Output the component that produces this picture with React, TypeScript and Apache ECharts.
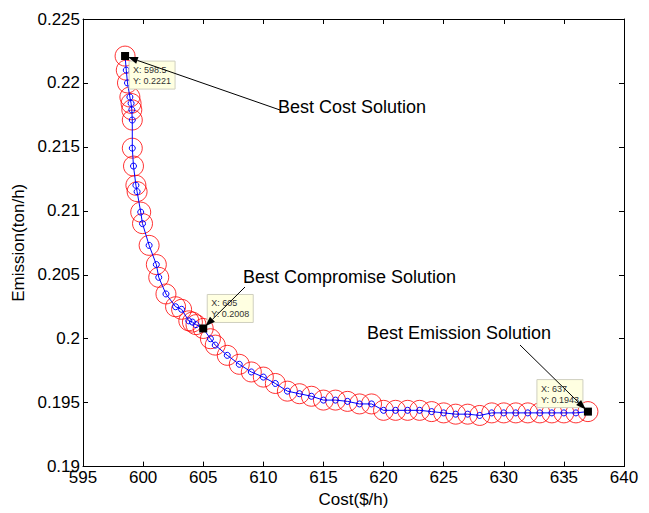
import React, { useEffect, useRef } from "react";
import * as echarts from "echarts";

const cost = [
  598.5, 598.6, 598.7, 598.9, 599.0, 599.06, 599.1, 599.1, 599.2, 599.4, 599.5,
  599.8, 599.95, 600.5, 601.1, 601.3, 601.9, 602.7, 603.2, 603.8, 604.1, 604.4,
  605, 605.6, 606.0, 607, 608, 609, 610, 611, 612, 613, 614, 615, 616, 617, 618,
  619, 620, 621, 622, 623, 624, 625, 626, 627, 628, 629, 630, 631, 632, 633, 634,
  635, 636, 637,
];
const emission = [
  0.2221, 0.221, 0.22, 0.2189, 0.2184, 0.2179, 0.2171, 0.2149, 0.2135, 0.212, 0.2115,
  0.2099, 0.209, 0.2073, 0.2058, 0.2048, 0.2035, 0.2025, 0.2023, 0.2014, 0.2013, 0.2011,
  0.2008, 0.2, 0.1995, 0.1987, 0.198, 0.1974, 0.197, 0.1965, 0.1959, 0.1957, 0.1955,
  0.1952, 0.1952, 0.1951, 0.1949, 0.1949, 0.1944, 0.1944, 0.1944, 0.1944, 0.1943,
  0.1942, 0.1941, 0.1941, 0.194, 0.1942, 0.1942, 0.1942, 0.1942, 0.1942, 0.1942,
  0.1942, 0.1942, 0.1943,
];

const solutionNames = ["Best Cost Solution", "Best Compromise Solution", "Best Emission Solution"];
const solutionCost = [598.5, 605, 637];
const solutionEmission = [0.2221, 0.2008, 0.1943];

const FONT = "'Liberation Sans', Arial, sans-serif";

// layout of annotations (pixels)
const annLayout = [
  { textX: 278, textY: 107, fromX: 280, fromY: 110, tipDx: 4, tipDy: 5 },
  { textX: 243, textY: 277, fromX: 245, fromY: 287, tipDx: 4, tipDy: -34 },
  { textX: 367, textY: 333, fromX: 520, fromY: 345, tipDx: -51, tipDy: -32 },
];

export default function App() {
  const ref = useRef<HTMLDivElement>(null);
  useEffect(() => {
    const chart = echarts.init(ref.current!, null, { renderer: "svg" });
    const pts = cost.map((c, i) => [c, emission[i]]);
    const axisLine = { show: true, onZero: false, lineStyle: { color: "#000", width: 1 } };
    const tick = { show: true, inside: true, length: 5, lineStyle: { color: "#000", width: 1 } };
    chart.setOption({
      animation: false,
      backgroundColor: "#fff",
      grid: { left: 83, right: 25, top: 19, bottom: 39 },
      xAxis: [
        {
          type: "value", min: 595, max: 640, interval: 5, position: "bottom",
          name: "Cost($/h)", nameLocation: "middle", nameGap: 20,
          nameTextStyle: { color: "#000", fontSize: 17, fontFamily: FONT },
          axisLine, axisTick: tick,
          axisLabel: { color: "#000", fontSize: 17, fontFamily: FONT, margin: 6, lineHeight: 10 },
          splitLine: { show: false },
        },
        {
          type: "value", min: 595, max: 640, interval: 5, position: "top",
          axisLine, axisTick: tick, axisLabel: { show: false }, splitLine: { show: false },
        },
      ],
      yAxis: [
        {
          type: "value", min: 0.19, max: 0.225, interval: 0.005, position: "left",
          name: "Emission(ton/h)", nameLocation: "middle", nameGap: 44, nameRotate: 90,
          nameTextStyle: { color: "#000", fontSize: 17, fontFamily: FONT },
          axisLine, axisTick: tick,
          axisLabel: {
            color: "#000", fontSize: 17, fontFamily: FONT, margin: 3, lineHeight: 10,
            formatter: (v: number) => String(Number(v.toFixed(3))),
          },
          splitLine: { show: false },
        },
        {
          type: "value", min: 0.19, max: 0.225, interval: 0.005, position: "right",
          axisLine, axisTick: tick, axisLabel: { show: false }, splitLine: { show: false },
        },
      ],
      series: [
        {
          type: "scatter", data: pts, symbol: "circle", symbolSize: 20, silent: true, z: 2,
          itemStyle: { color: "rgba(0,0,0,0)", borderColor: "#ff0000", borderWidth: 1 },
        },
        {
          type: "line", data: pts, symbol: "circle", symbolSize: 6, silent: true, z: 3,
          showAllSymbol: true,
          lineStyle: { color: "#0000ff", width: 1 },
          itemStyle: { color: "rgba(0,0,0,0)", borderColor: "#0000ff", borderWidth: 1 },
        },
      ],
    });

    const graphic: any[] = [];
    solutionCost.forEach((c, i) => {
      const [px, py] = chart.convertToPixel({ seriesIndex: 1 }, [c, solutionEmission[i]]) as number[];
      const L = annLayout[i];
      // data tip box
      const bxl = px + L.tipDx, byt = py + L.tipDy;
      graphic.push({
        type: "rect", z: 101,
        shape: { x: bxl, y: byt, width: 46, height: 28 },
        style: { fill: "#ffffe1", stroke: "#cfcfbf", lineWidth: 1 },
      });
      graphic.push({
        type: "text", z: 102, x: bxl + 4, y: byt + 9,
        style: { text: "X: " + c, fontSize: 9, fontFamily: FONT, fill: "#333", verticalAlign: "middle" },
      });
      graphic.push({
        type: "text", z: 102, x: bxl + 4, y: byt + 20,
        style: { text: "Y: " + solutionEmission[i], fontSize: 9, fontFamily: FONT, fill: "#333", verticalAlign: "middle" },
      });
      // marker square
      graphic.push({
        type: "rect", z: 103,
        shape: { x: px - 4, y: py - 4, width: 8, height: 8 },
        style: { fill: "#000" },
      });
      // arrow (on top of the data tip)
      const dx = px - L.fromX, dy = py - L.fromY;
      const len = Math.hypot(dx, dy);
      const ux = dx / len, uy = dy / len;
      const tipX = px - ux * 3, tipY = py - uy * 3;
      const hl = 10, hw = 3.5;
      const bx = tipX - ux * hl, by = tipY - uy * hl;
      graphic.push({
        type: "line", z: 105,
        shape: { x1: L.fromX, y1: L.fromY, x2: bx, y2: by },
        style: { stroke: "#000", lineWidth: 1 },
      });
      graphic.push({
        type: "polygon", z: 105,
        shape: { points: [[tipX, tipY], [bx - uy * hw, by + ux * hw], [bx + uy * hw, by - ux * hw]] },
        style: { fill: "#000" },
      });
      // label
      graphic.push({
        type: "text", z: 104, x: L.textX, y: L.textY,
        style: { text: solutionNames[i], fontSize: 18, fontFamily: FONT, fill: "#000", verticalAlign: "middle" },
      });
    });
    chart.setOption({ graphic });
    return () => chart.dispose();
  }, []);
  return (
    <div
      ref={ref}
      style={{ position: "fixed", left: 0, top: 0, width: 649, height: 513, background: "#fff" }}
    />
  );
}
